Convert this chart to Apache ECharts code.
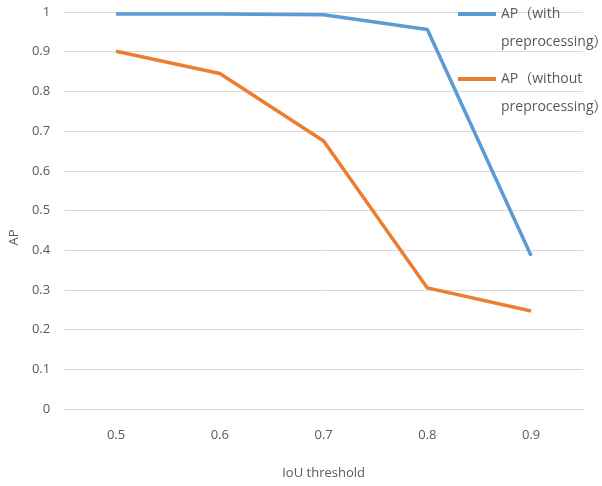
<!DOCTYPE html>
<html>
<head>
<meta charset="utf-8">
<script src="https://cdn.jsdelivr.net/npm/echarts@6/dist/echarts.min.js"></script>
<style>
html,body{margin:0;padding:0;background:#fff;}
#apChart{width:602px;height:486px;}
</style>
</head>
<body>
<div id="apChart"></div>
<script>
var iouThresholds = ['0.5', '0.6', '0.7', '0.8', '0.9'];
var apWith = [0.995, 0.995, 0.993, 0.956, 0.386];
var apWithout = [0.901, 0.845, 0.675, 0.305, 0.247];
var seriesNames = ['AP（with preprocessing）', 'AP（without preprocessing）'];

function apEcharts(idName){
	var chart = echarts.init(document.getElementById(idName));
	var fontFamily = '"Open Sans", "Noto Sans CJK SC", sans-serif';

	// 图例文字第一行与线条对齐：前面加一空行
	function legendAt(name, top){
		return {
			data: [name],
			orient: 'vertical',
			left: 458,
			top: top,
			padding: 0,
			icon: 'rect',
			itemWidth: 38,
			itemHeight: 4,
			itemGap: 0,
			formatter: function(n){ return '\n' + n.replace(' ', '\n'); },
			textStyle: {
				color: '#595959',
				fontSize: 14,
				fontFamily: fontFamily,
				lineHeight: 28
			}
		};
	}

	var option = {
		color: ['#5B9BD5', '#ED7D31'],
		animation: false,
		legend: [legendAt(seriesNames[0], -28), legendAt(seriesNames[1], 37)],
		grid: {left: 62, right: 19, top: 12, bottom: 77},
		xAxis: {
			type: 'category',
			data: iouThresholds,
			name: 'IoU threshold',
			nameLocation: 'middle',
			nameGap: 58,
			nameTextStyle: {color: '#595959', fontSize: 13, fontFamily: fontFamily},
			axisLine: {lineStyle: {color: '#d9d9d9', width: 1}},
			axisTick: {show: false},
			axisLabel: {color: '#595959', fontSize: 13, fontFamily: fontFamily, margin: 20}
		},
		yAxis: {
			type: 'value',
			min: 0,
			max: 1,
			interval: 0.1,
			name: 'AP',
			nameLocation: 'middle',
			nameGap: 40,
			nameTextStyle: {color: '#595959', fontSize: 13, fontFamily: fontFamily, padding: [0, 54, 0, 0]},
			axisLine: {show: false},
			axisTick: {show: false},
			splitLine: {lineStyle: {color: '#d9d9d9', width: 1}},
			axisLabel: {
				color: '#595959',
				fontSize: 13,
				fontFamily: fontFamily,
				margin: 14,
				formatter: function(v){ return String(Math.round(v * 10) / 10); }
			}
		},
		series: [
			{
				name: seriesNames[0],
				type: 'line',
				data: apWith,
				showSymbol: false,
				symbol: 'none',
				lineStyle: {width: 3.5}
			},
			{
				name: seriesNames[1],
				type: 'line',
				data: apWithout,
				showSymbol: false,
				symbol: 'none',
				lineStyle: {width: 3.5}
			}
		]
	};

	chart.setOption(option);
}

apEcharts('apChart');
</script>
</body>
</html>
